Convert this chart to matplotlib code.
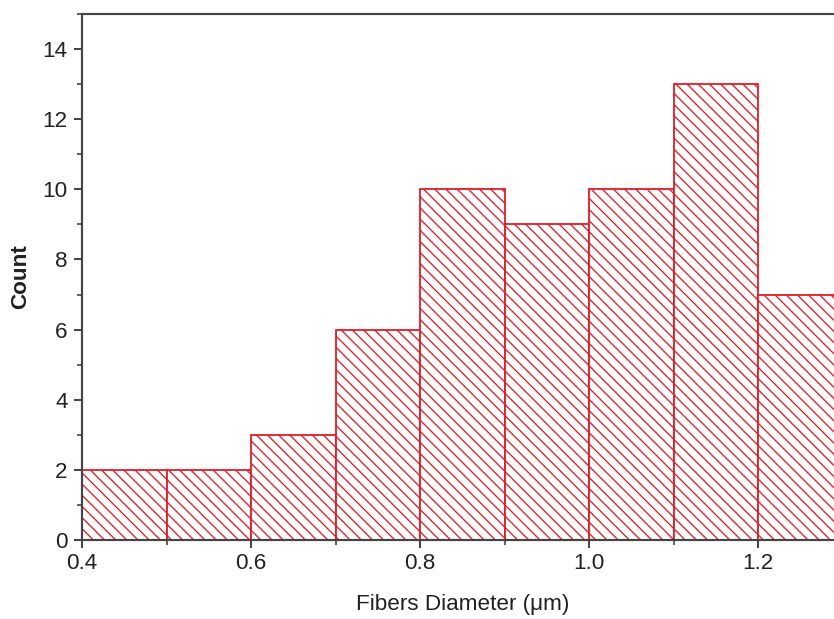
import matplotlib
matplotlib.use("Agg")
import matplotlib.pyplot as plt
from matplotlib.ticker import MultipleLocator

bin_edges = [0.4, 0.5, 0.6, 0.7, 0.8, 0.9, 1.0, 1.1, 1.2, 1.3]
counts = [2, 2, 3, 6, 10, 9, 10, 13, 7]
x_ticks = [0.4, 0.6, 0.8, 1.0, 1.2]
y_ticks = [0, 2, 4, 6, 8, 10, 12, 14]

dpi = 134
k = 120 / dpi  # keep pixel sizes as designed at 120 dpi

plt.rcParams['font.family'] = ['Liberation Sans', 'DejaVu Sans']
plt.rcParams['hatch.linewidth'] = 0.8 * k

fig = plt.figure(figsize=(834 / dpi, 619 / dpi), dpi=dpi)
left = 82 / 834
bottom = 1 - 540 / 619
height = (540 - 14) / 619
width = (842.5 - 82) / 834
ax = fig.add_axes([left, bottom, width, height])

lefts = bin_edges[:-1]
widths = [b - a for a, b in zip(bin_edges[:-1], bin_edges[1:])]
ax.bar(lefts, counts, width=widths, align='edge', facecolor='white',
       edgecolor='#e0202a', linewidth=1.1 * k, hatch='\\\\\\\\')

ax.set_xlim(0.4, 1.3)
ax.set_ylim(0, 15)
ax.set_xticks(x_ticks)
ax.set_xticklabels([f"{v:.1f}" for v in x_ticks])
ax.set_yticks(y_ticks)
ax.xaxis.set_minor_locator(MultipleLocator(0.1))
ax.yaxis.set_minor_locator(MultipleLocator(1))

spine_color = '#444444'
for s in ax.spines.values():
    s.set_color(spine_color)
    s.set_linewidth(1.3 * k)
ax.tick_params(which='major', direction='out', length=5 * k, width=1.2 * k,
               color=spine_color, labelsize=13.5 * k, labelcolor='#222222')
ax.tick_params(which='minor', direction='out', length=3 * k, width=1.0 * k,
               color=spine_color)
ax.tick_params(axis='x', which='both', top=False, pad=3 * k)
ax.tick_params(axis='y', which='both', right=False, pad=3.5 * k)

ax.set_xlabel('Fibers Diameter (\u03bcm)', fontsize=13.5 * k, color='#222222',
              labelpad=12 * k)
ax.set_ylabel('Count', fontsize=13.5 * k, fontweight='bold', color='#222222',
              labelpad=7 * k)

fig.savefig('out.png', dpi=dpi)
